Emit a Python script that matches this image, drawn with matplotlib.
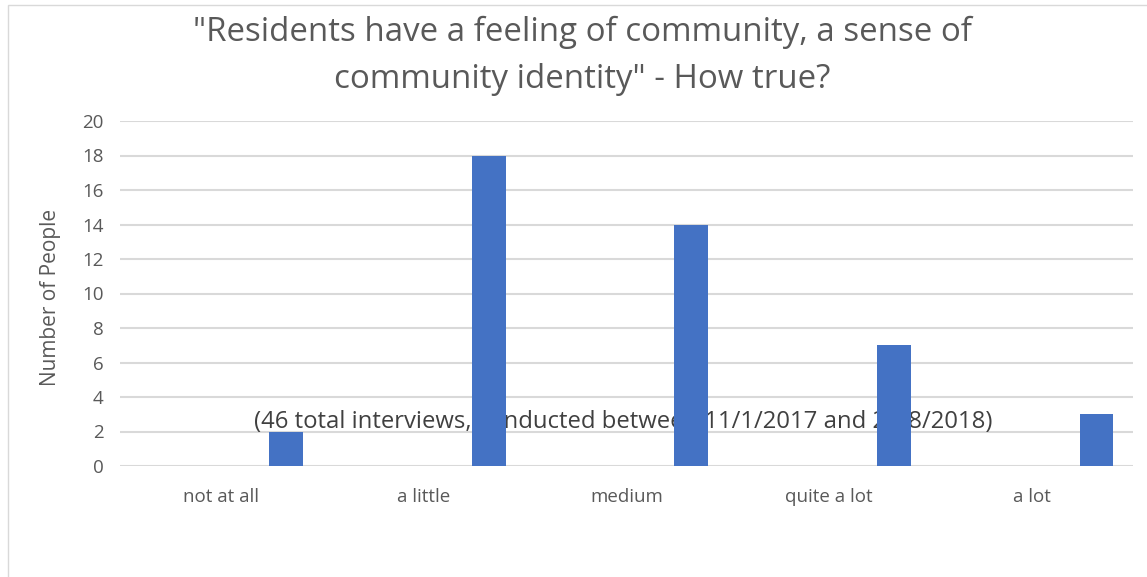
import numpy as np
import matplotlib.pyplot as plt
from matplotlib.patches import Rectangle

categories = ['not at all', 'a little', 'medium', 'quite a lot', 'a lot']
people = [2, 18, 14, 7, 3]
yticks = [0, 2, 4, 6, 8, 10, 12, 14, 16, 18, 20]

title = '"Residents have a feeling of community, a sense of\ncommunity identity" - How true?'
note = '(46 total interviews, conducted between 11/1/2017 and 2/28/2018)'

plt.rcParams['font.family'] = ['Open Sans', 'DejaVu Sans']

fig = plt.figure(figsize=(11.47, 5.77), dpi=100)
ax = fig.add_axes([120/1147, 1 - 466/577, 1013/1147, 345/577])

x = np.arange(len(categories))
ax.bar(x + 0.32, people, width=0.167, color='#4472C4', zorder=3)

ax.set_xlim(-0.5, 4.5)
ax.set_ylim(0, 20)
ax.set_yticks(yticks)
ax.set_xticks(x)
ax.set_xticklabels(categories, fontsize=13.5, color='#595959')
ax.tick_params(axis='y', labelsize=13.5, labelcolor='#595959', length=0, pad=12)
ax.tick_params(axis='x', length=0, pad=16)
ax.grid(axis='y', color='#d9d9d9', linewidth=1.5, zorder=0)
for s in ax.spines.values():
    s.set_visible(False)

ax.set_ylabel('Number of People', fontsize=15, color='#595959')
ax.yaxis.set_label_coords(-0.058, 0.49)

# note sits under the bars
ax.text(0.132, 0.127, note, transform=ax.transAxes, fontsize=17.2, color='#404040',
        va='center', ha='left', zorder=2)

fig.text(0.508, 0.972, title, ha='center', va='top', fontsize=23.8, color='#595959',
         linespacing=1.55)

fig.patches.append(Rectangle((8/1147, -0.01), 1.1, 1 - 5/577 + 0.01, transform=fig.transFigure,
                             fill=False, edgecolor='#d9d9d9', linewidth=1))

fig.savefig('out.png', dpi=100, facecolor='white')
